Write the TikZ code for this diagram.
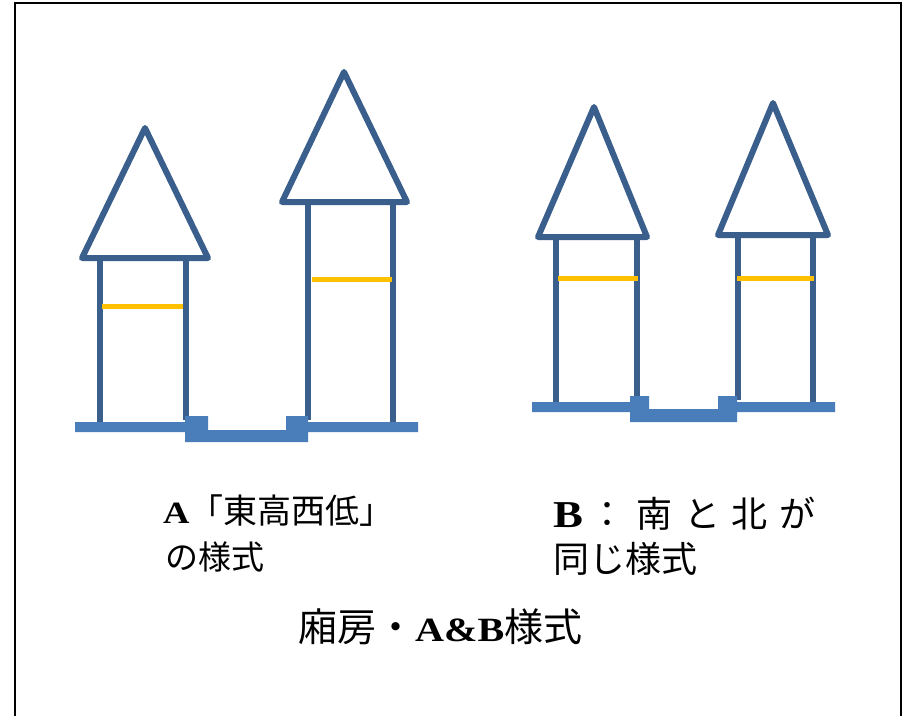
\documentclass[tikz,border=0pt]{standalone}
\usepackage{fontspec}
\setmainfont{Liberation Serif}
\newfontfamily\cjk{Noto Sans CJK JP}
\newfontfamily\wideserif{Liberation Serif}[FakeStretch=1.18]
\definecolor{wallblue}{HTML}{3A5F8C}
\definecolor{groundblue}{HTML}{4A7EBB}
\definecolor{beamyellow}{HTML}{FFC000}
\begin{document}
\begin{tikzpicture}[x=1pt,y=-1pt,
  tower/.style={draw=wallblue,line width=6pt,line join=round,line cap=round},
  leg/.style={draw=wallblue,line width=6pt},
  beam/.style={draw=beamyellow,line width=5pt},
  ground/.style={fill=groundblue,draw=none},
  label/.style={inner sep=0pt,anchor=base west,text=black}]
\useasboundingbox (0,0) rectangle (912,715);
\fill[white] (0,0) rectangle (912,715);
% outer frame (open at the bottom)
\draw[black,line width=2pt] (15,720) -- (15,3) -- (901,3) -- (901,720);

% ---------- style A: east high, west low ----------
% left tower
\draw[tower] (82,258) -- (145,128) -- (208,258) -- cycle;
\draw[leg] (100,258) -- (100,424);
\draw[leg] (186,258) -- (186,420);
\draw[beam] (102,306) -- (183,306);
% right tower
\draw[tower] (282,202) -- (344,72) -- (407,202) -- cycle;
\draw[leg] (308,202) -- (308,420);
\draw[leg] (393,202) -- (393,424);
\draw[beam] (312,279) -- (392,279);
% ground with sunken courtyard
\path[ground] (75,422) -- (185,422) -- (185,416) -- (208,416) -- (208,430)
  -- (286,430) -- (286,416) -- (308,416) -- (308,422) -- (418,422)
  -- (418,432) -- (308,432) -- (308,442) -- (185,442) -- (185,432)
  -- (75,432) -- cycle;

% ---------- style B: north and south equal ----------
% left tower
\draw[tower] (538,237) -- (594,107) -- (647,237) -- cycle;
\draw[leg] (556,237) -- (556,404);
\draw[leg] (637,237) -- (637,400);
\draw[beam] (558,278) -- (638,278);
% right tower
\draw[tower] (718,235) -- (773,103) -- (828,235) -- cycle;
\draw[leg] (738,235) -- (738,400);
\draw[leg] (813,235) -- (813,404);
\draw[beam] (737,278) -- (814,278);
% ground with sunken courtyard
\path[ground] (532,402) -- (630,402) -- (630,396) -- (649,396) -- (649,409)
  -- (718,409) -- (718,396) -- (737,396) -- (737,402) -- (835,402)
  -- (835,412) -- (737,412) -- (737,422) -- (630,422) -- (630,412)
  -- (532,412) -- cycle;

% ---------- labels ----------
\node[label] (labelA1) at (163,523)
  {\fontsize{34}{40}\selectfont{\wideserif\fontsize{31}{36}\selectfont\bfseries A}{\cjk 「東高西低」}};
\node[label] (labelA2) at (165,569)
  {\fontsize{33}{40}\selectfont\cjk の様式};
\node[label] (labelB1) at (553,527)
  {\fontsize{36}{42}\selectfont\makebox[262pt][s]{{\wideserif\fontsize{38}{42}\selectfont\bfseries B}\hspace{6pt}\cjk ：\hfil 南\hfil と\hfil 北\hfil が}};
\node[label] (labelB2) at (553,572)
  {\fontsize{36}{42}\selectfont\cjk 同じ様式};
\node[label] (title) at (298,641)
  {\fontsize{39}{45}\selectfont{\cjk 廂房・}{\wideserif\fontsize{34}{40}\selectfont\bfseries A\&B}{\cjk 様式}};
\end{tikzpicture}
\end{document}
